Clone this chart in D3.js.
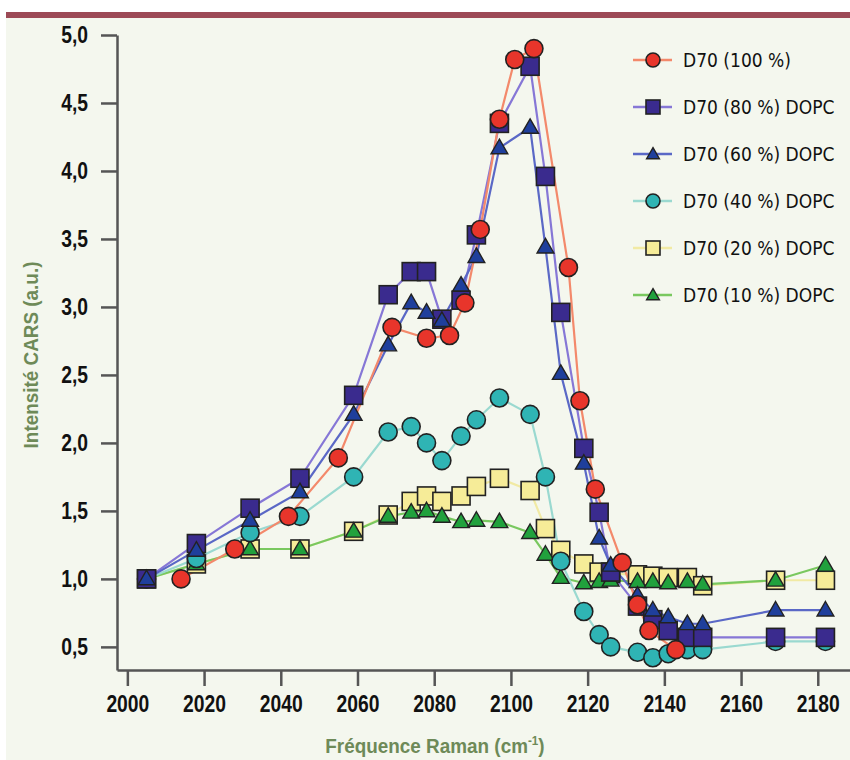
<!DOCTYPE html>
<html>
<head>
<meta charset="utf-8">
<script src="https://cdn.jsdelivr.net/npm/d3@7/dist/d3.min.js"></script>
<style>
    body { margin: 0; background: #ffffff; }
    svg { display: block; }
    .tick text { font-family: "Liberation Sans", sans-serif; font-weight: bold; font-size: 23px; fill: #111; }
    .axisTitle { font-family: "Liberation Sans", sans-serif; font-weight: bold; font-size: 21px; fill: #6e8a58; }
    .legendText { font-family: "DejaVu Sans Condensed", sans-serif; font-size: 19px; fill: #111; }
</style>
</head>
<body>
<div id="chart"></div>
<script>
// frequencies (cm-1) for the pure D70 sample
var freqPure = [2014, 2028, 2042, 2055, 2069, 2078, 2084, 2088, 2092, 2097, 2101, 2106, 2115, 2118, 2122, 2129, 2133, 2136, 2143];
// frequencies shared by the mixtures with DOPC
var freqMix = [2005, 2018, 2032, 2045, 2059, 2068, 2074, 2078, 2082, 2087, 2091, 2097, 2105, 2109, 2113, 2119, 2123, 2126, 2133, 2137, 2141, 2146, 2150, 2169, 2182];

var d70_100 = [1.00, 1.22, 1.46, 1.89, 2.85, 2.77, 2.79, 3.03, 3.57, 4.38, 4.82, 4.90, 3.29, 2.31, 1.66, 1.12, 0.81, 0.62, 0.48];
var d70_80 = [1.00, 1.26, 1.52, 1.74, 2.35, 3.09, 3.26, 3.26, 2.91, 3.05, 3.53, 4.35, 4.77, 3.96, 2.96, 1.96, 1.49, 1.05, 0.80, 0.70, 0.62, 0.57, 0.57, 0.57, 0.57];
var d70_60 = [1.00, 1.21, 1.43, 1.64, 2.21, 2.72, 3.03, 2.96, 2.90, 3.16, 3.37, 4.17, 4.32, 3.44, 2.51, 1.85, 1.30, 1.10, 0.88, 0.77, 0.72, 0.67, 0.67, 0.77, 0.77];
var d70_40 = [1.00, 1.15, 1.34, 1.46, 1.75, 2.08, 2.12, 2.00, 1.87, 2.05, 2.17, 2.33, 2.21, 1.75, 1.13, 0.76, 0.59, 0.50, 0.46, 0.42, 0.45, 0.48, 0.48, 0.54, 0.54];
var d70_20 = [1.00, 1.11, 1.22, 1.22, 1.35, 1.47, 1.57, 1.61, 1.57, 1.61, 1.68, 1.74, 1.65, 1.37, 1.21, 1.11, 1.05, 1.04, 1.03, 1.02, 1.01, 1.01, 0.95, 0.99, 0.99];
var d70_10 = [1.00, 1.11, 1.22, 1.22, 1.35, 1.46, 1.49, 1.50, 1.46, 1.42, 1.43, 1.42, 1.34, 1.18, 1.01, 0.97, 0.98, 0.99, 0.98, 0.98, 0.97, 0.98, 0.96, 0.99, 1.10];

var seriesNames = ["D70 (100 %)", "D70 (80 %) DOPC", "D70 (60 %) DOPC", "D70 (40 %) DOPC", "D70 (20 %) DOPC", "D70 (10 %) DOPC"];
var xTicks = [2000, 2020, 2040, 2060, 2080, 2100, 2120, 2140, 2160, 2180];
var yTicks = [0.5, 1.0, 1.5, 2.0, 2.5, 3.0, 3.5, 4.0, 4.5, 5.0];

var width = 850, height = 760;
var squeeze = 0.84; // horizontal squeeze to mimic the condensed label font

var series = [
    {name: seriesNames[0], x: freqPure, y: d70_100, shape: "circle", fill: "#e8352b", line: "#f3896b"},
    {name: seriesNames[1], x: freqMix, y: d70_80, shape: "square", fill: "#3a2b8e", line: "#8677d6"},
    {name: seriesNames[2], x: freqMix, y: d70_60, shape: "triangle", fill: "#1f3f9c", line: "#5a68c6"},
    {name: seriesNames[3], x: freqMix, y: d70_40, shape: "circle", fill: "#2fb4b4", line: "#9ad9d0"},
    {name: seriesNames[4], x: freqMix, y: d70_20, shape: "square", fill: "#f6ec98", line: "#f1eaa4"},
    {name: seriesNames[5], x: freqMix, y: d70_10, shape: "triangle", fill: "#21a13d", line: "#79c85f"}
];

// drawing order, bottom to top
var drawOrder = [4, 5, 3, 1, 2, 0];

var svg = d3.select("#chart").append("svg")
    .attr("width", width)
    .attr("height", height);

// background and top band
svg.append("rect").attr("x", 6).attr("y", 12).attr("width", width - 6).attr("height", height - 12).attr("fill", "#f4f7ee");
svg.append("rect").attr("x", 6).attr("y", 12).attr("width", width - 6).attr("height", 6).attr("fill", "#9c4a56");

var xScale = d3.scaleLinear().domain([1997.3, 2188.4]).range([117, 850]);
var yScale = d3.scaleLinear().domain([0.33, 5.0]).range([670, 35]);

var fmt = d3.formatLocale({decimal: ",", thousands: " ", grouping: [3], currency: ["", ""]}).format(".1f");

var xAxis = svg.append("g")
    .attr("transform", "translate(0,670)")
    .call(d3.axisBottom(xScale).tickValues(xTicks).tickFormat(d3.format("d")).tickSize(16).tickSizeOuter(0).tickPadding(10));

var yAxis = svg.append("g")
    .attr("transform", "translate(117,0)")
    .call(d3.axisLeft(yScale).tickValues(yTicks).tickFormat(fmt).tickSize(16).tickSizeOuter(0).tickPadding(13));

[xAxis, yAxis].forEach(function(ax){
    ax.selectAll("path.domain").attr("stroke", "#555").attr("stroke-width", 2.5);
    ax.selectAll(".tick line").attr("stroke", "#555").attr("stroke-width", 2.5);
});

// condense the tick labels
xAxis.selectAll(".tick text").attr("transform", "scale(" + squeeze + ",1)");
yAxis.selectAll(".tick text")
    .attr("x", -29 / squeeze)
    .attr("transform", "scale(" + squeeze + ",1)");

// axis titles
var xTitle = svg.append("text")
    .attr("class", "axisTitle")
    .attr("transform", "translate(435,753) scale(0.9,1)")
    .attr("text-anchor", "middle");
xTitle.append("tspan").text("Fréquence Raman (cm");
xTitle.append("tspan").attr("dy", -8).attr("font-size", "13px").text("-1");
xTitle.append("tspan").attr("dy", 8).text(")");

svg.append("text")
    .attr("class", "axisTitle")
    .attr("transform", "translate(38,355) rotate(-90) scale(0.9,1)")
    .attr("text-anchor", "middle")
    .text("Intensité CARS (a.u.)");

/**
 * Appends one marker of the given shape centered on (cx, cy)
 */
function drawMarker(g, shape, cx, cy, s, fill) {
    if (shape == "circle") {
        g.append("circle").attr("cx", cx).attr("cy", cy).attr("r", s / 2)
            .attr("fill", fill).attr("stroke", "#222").attr("stroke-width", 1.6);
    }
    else if (shape == "square") {
        g.append("rect").attr("x", cx - s / 2).attr("y", cy - s / 2).attr("width", s).attr("height", s)
            .attr("fill", fill).attr("stroke", "#222").attr("stroke-width", 1.6);
    }
    else {
        g.append("path")
            .attr("d", d3.symbol(d3.symbolTriangle).size(s * s * 0.42)())
            .attr("transform", "translate(" + cx + "," + (cy + 1) + ")")
            .attr("fill", fill).attr("stroke", "#222").attr("stroke-width", 1.4);
    }
}

var line = d3.line()
    .x(function(d){ return xScale(d[0]); })
    .y(function(d){ return yScale(d[1]); });

// lines first
drawOrder.forEach(function(i){
    var s = series[i];
    var pts = s.x.map(function(f, k){ return [f, s.y[k]]; });
    svg.append("path")
        .datum(pts)
        .attr("d", line)
        .attr("fill", "none")
        .attr("stroke", s.line)
        .attr("stroke-width", 2.2);
});

// then markers
drawOrder.forEach(function(i){
    var s = series[i];
    var g = svg.append("g");
    s.x.forEach(function(f, k){
        drawMarker(g, s.shape, xScale(f), yScale(s.y[k]), s.shape == "triangle" ? 17 : 18, s.fill);
    });
});

// legend
var legend = svg.append("g");
series.forEach(function(s, i){
    var ly = 60 + i * 47;
    legend.append("line").attr("x1", 633).attr("x2", 672).attr("y1", ly).attr("y2", ly)
        .attr("stroke", s.line).attr("stroke-width", 2.5);
    drawMarker(legend, s.shape, 653, ly, s.shape == "triangle" ? 13 : 14, s.fill);
    legend.append("text")
        .attr("class", "legendText")
        .attr("x", 683)
        .attr("y", ly + 7)
        .text(s.name);
});
</script>
</body>
</html>
